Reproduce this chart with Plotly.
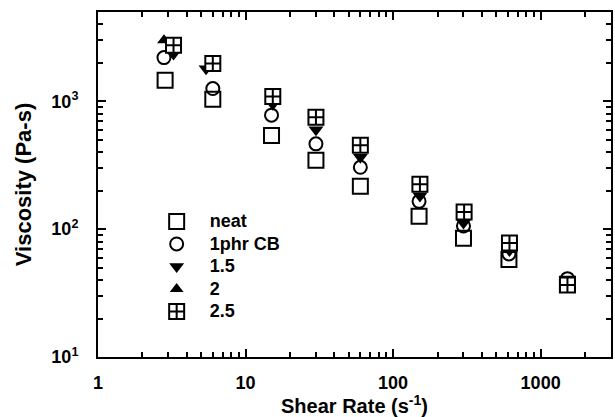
import plotly.graph_objects as go

# Data (shear rate in 1/s, viscosity in Pa-s)
neat_x = [2.85, 6.0, 15.0, 30.0, 60.0, 150.0, 300.0, 610.0, 1520.0]
neat_y = [1460, 1040, 540, 346, 217, 126, 85, 58, 37]

cb1_x = [2.8, 6.0, 15.0, 30.0, 60.0, 150.0, 300.0, 610.0, 1520.0]
cb1_y = [2200, 1260, 780, 465, 305, 165, 106, 64, 41]

cb15_x = [3.25, 5.4, 15.3, 30.0, 60.0, 152.0, 300.0, 615.0, 1520.0]
cb15_y = [2350, 1800, 950, 600, 365, 182, 112, 68, 39]

cb2_x = [2.8, 5.9, 15.3, 30.0, 60.0, 152.0, 303.0, 615.0, 1520.0]
cb2_y = [3000, 1950, 1040, 700, 420, 210, 128, 74, 38]

cb25_x = [3.25, 6.0, 15.3, 30.0, 60.0, 152.0, 303.0, 615.0, 1520.0]
cb25_y = [2750, 1980, 1090, 750, 453, 225, 136, 78, 36.5]

series_names = ["neat", "1phr CB", "1.5", "2", "2.5"]

x_major = [1, 10, 100, 1000]
x_major_text = ["1", "10", "100", "1000"]
y_major = [10, 100, 1000]
y_major_text = ["10<sup>1</sup>", "10<sup>2</sup>", "10<sup>3</sup>"]
x_minor = [m * d for d in (1, 10, 100) for m in range(2, 10)] + [2000]
y_minor = [m * d for d in (10, 100) for m in range(2, 10)] + [2000, 3000, 4000]

FONT = "Liberation Sans, Arial, sans-serif"

fig = go.Figure()

def add(name, xs, ys, symbol, size, color, lw):
    fig.add_trace(go.Scatter(
        x=xs, y=ys, mode="markers",
        name='<span style="font-size:18px">' + name + '</span>',
        marker=dict(symbol=symbol, size=size, color=color,
                    line=dict(color="black", width=lw)),
    ))

add(series_names[0], neat_x, neat_y, "square-open", 15, "black", 2)
add(series_names[1], cb1_x, cb1_y, "circle-open", 13, "black", 2)
add(series_names[2], cb15_x, cb15_y, "triangle-down", 13, "black", 0)
add(series_names[3], cb2_x, cb2_y, "triangle-up", 12, "black", 0)
add(series_names[4], cb25_x, cb25_y, "square-cross", 15, "white", 2)

axis_common = dict(
    type="log", showline=True, linewidth=2, linecolor="black", mirror="allticks",
    ticks="inside", ticklen=8, tickwidth=2, tickcolor="black",
    showgrid=False, zeroline=False,
    tickfont=dict(family=FONT, size=18, color="black", weight="bold"),
    minor=dict(ticks="inside", ticklen=5, tickwidth=1.5, tickcolor="black", showgrid=False),
)

fig.update_xaxes(
    **axis_common,
    range=[0, 3.477],
    tickmode="array", tickvals=x_major, ticktext=x_major_text,
    ticklabelstandoff=8,
    title=dict(text="Shear Rate (s<sup>-1</sup>)", standoff=0,
               font=dict(family=FONT, size=20, color="black", weight="bold")),
)
fig.update_xaxes(minor_tickmode="array", minor_tickvals=x_minor)

fig.update_yaxes(
    **axis_common,
    range=[1, 3.699],
    tickmode="array", tickvals=y_major, ticktext=y_major_text,
    ticklabelstandoff=14,
    title=dict(text="Viscosity (Pa-s)", standoff=14,
               font=dict(family=FONT, size=22, color="black", weight="bold")),
)
fig.update_yaxes(minor_tickmode="array", minor_tickvals=y_minor)

fig.update_layout(
    width=615, height=417,
    margin=dict(l=98, r=2, t=12, b=60),
    plot_bgcolor="white", paper_bgcolor="white",
    showlegend=True,
    legend=dict(x=0.089, y=0.44, xanchor="left", yanchor="top",
                bgcolor="rgba(0,0,0,0)", tracegroupgap=0, itemwidth=56,
                font=dict(family=FONT, size=15, color="black", weight="bold")),
)

fig.write_html("out.html", config={"displayModeBar": False},
               post_script="document.body.style.margin='0px';")
